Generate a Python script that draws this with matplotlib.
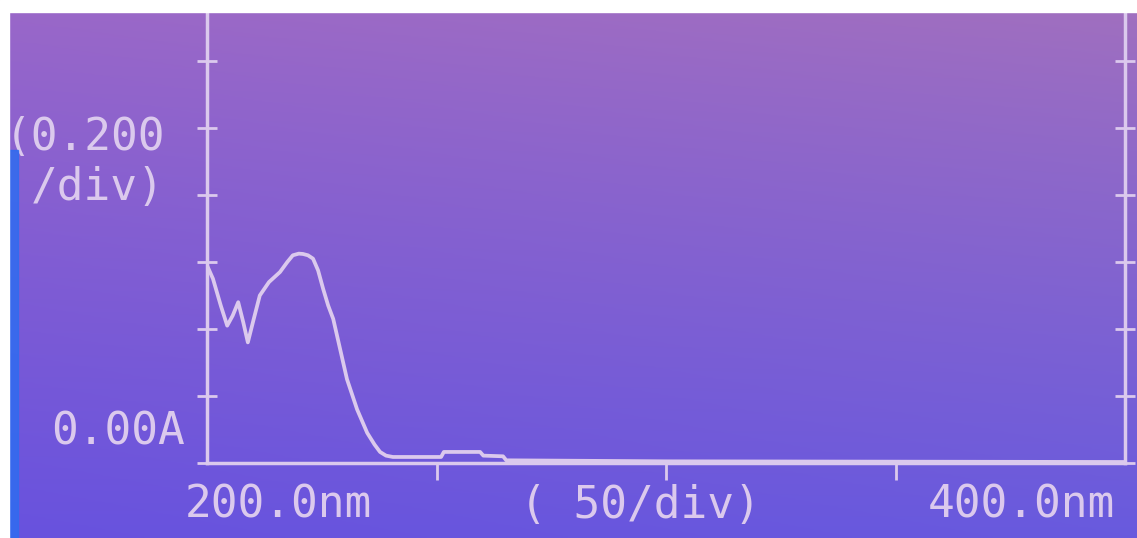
# UV-vis spectrum photographed off the spectrophotometer screen
import numpy as np
import matplotlib.pyplot as plt

# wavelength (nm) and absorbance
wavelength = [200.0, 201.3, 203.0, 204.4, 205.6, 206.8, 207.9, 208.9, 210.0,
              211.5, 213.5, 215.9, 217.5, 218.7, 220.0, 220.9, 222.0, 223.1,
              224.2, 225.3, 226.4, 227.5, 229.0, 230.5, 232.7, 234.9, 236.5,
              237.7, 239.0, 240.5, 251.0, 251.6, 259.5, 260.2, 264.5, 265.2,
              300.0, 400.0]
absorbance = [0.59, 0.55, 0.47, 0.41, 0.44, 0.48, 0.42, 0.36, 0.42,
              0.50, 0.54, 0.57, 0.60, 0.62, 0.625, 0.624, 0.62, 0.61,
              0.575, 0.52, 0.47, 0.43, 0.34, 0.25, 0.16, 0.09, 0.055,
              0.033, 0.022, 0.018, 0.018, 0.033, 0.033, 0.022, 0.02, 0.008,
              0.005, 0.003]

y_ticks = [0.0, 0.2, 0.4, 0.6, 0.8, 1.0, 1.2]
x_ticks = [250, 300, 350]

W, H = 1137, 538
fg = (0.86, 0.79, 0.93)

fig = plt.figure(figsize=(W / 100, H / 100), dpi=100)

# screen background: pinkish purple at the top fading to blue at the bottom
bg = fig.add_axes([0, 0, 1, 1])
bg.set_axis_off()
yy, xx = np.mgrid[0:1:200j, 0:1:300j]
tl = np.array([155, 104, 200]) / 255
tr = np.array([162, 112, 190]) / 255
bl = np.array([104, 82, 222]) / 255
br = np.array([104, 90, 222]) / 255
t = yy[..., None] ** 0.9
s = xx[..., None]
img = (1 - t) * ((1 - s) * tl + s * tr) + t * ((1 - s) * bl + s * br)
bg.imshow(img, aspect='auto', extent=[0, 1, 1, 0])
bg.set_xlim(0, 1)
bg.set_ylim(1, 0)

ax = fig.add_axes([207 / W, 75 / H, 918 / W, 1 - 75 / H])
ax.patch.set_alpha(0)
ax.plot(wavelength, absorbance, color=fg, lw=2.7, solid_joinstyle='round')
ax.set_xlim(200, 400)
ax.set_ylim(0, 463 / 335)
for side in ['left', 'right', 'bottom']:
    ax.spines[side].set_color(fg)
    ax.spines[side].set_linewidth(2.5)
ax.spines['top'].set_visible(False)
ax.set_yticks(y_ticks)
ax.set_xticks(x_ticks)
ax.tick_params(axis='y', which='both', direction='inout', length=14, width=2,
               color=fg, left=True, right=True, labelleft=False)
ax.tick_params(axis='x', direction='out', length=12, width=2, color=fg,
               labelbottom=False)

# screen labels
def label(x, y, s, ha):
    fig.text(x / W, 1 - y / H, s, ha=ha, va='center', color=fg,
             family='DejaVu Sans Mono', fontsize=32)

label(165, 137, '(0.200', 'right')
label(165, 188, '/div)', 'right')
label(185, 432, '0.00A', 'right')
label(185, 505, '200.0nm', 'left')
label(520, 505, '( 50/div)', 'left')
label(1115, 505, '400.0nm', 'right')

# white photo border and the blue screen edge, on top of everything
fig.add_artist(plt.Rectangle((0, 1 - 12 / H), 1, 12 / H, color='white',
                             transform=fig.transFigure, zorder=10))
fig.add_artist(plt.Rectangle((0, 0), 9 / W, 1, color='white',
                             transform=fig.transFigure, zorder=10))
fig.add_artist(plt.Rectangle((9 / W, 0), 9 / W, 1 - 150 / H, color='#2f6cf0',
                             alpha=0.85, transform=fig.transFigure, zorder=9))

fig.savefig('out.png', dpi=100)
